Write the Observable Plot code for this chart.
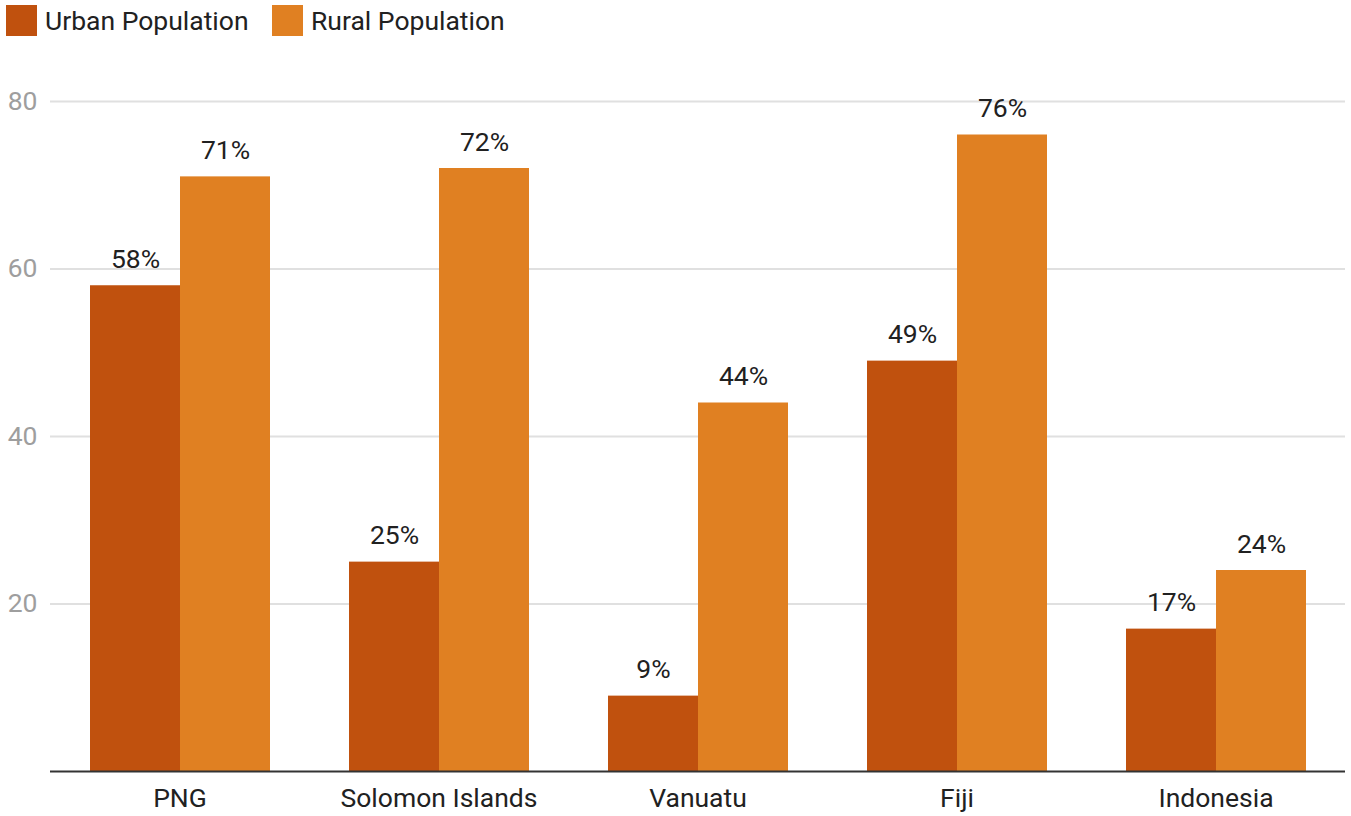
<!DOCTYPE html>
<html>
<head>
<meta charset="utf-8">
<script src="https://cdn.jsdelivr.net/npm/d3@7"></script>
<script src="https://cdn.jsdelivr.net/npm/@observablehq/plot@0.6"></script>
<style>
  html, body { margin: 0; padding: 0; background: #fff; }
  body { width: 1351px; height: 816px; overflow: hidden; font-family: Roboto, sans-serif; }
  #legend { height: 45px; position: relative; }
  .item { position: absolute; top: 5px; display: flex; align-items: center; font-size: 26.5px; color: #212121; line-height: 31px; }
  .sw { width: 31px; height: 31px; margin-right: 8px; }
</style>
</head>
<body>
<div id="legend"></div>
<div id="chart"></div>
<script>
const countries = ["PNG", "Solomon Islands", "Vanuatu", "Fiji", "Indonesia"];
const seriesNames = ["Urban Population", "Rural Population"];
const urbanValues = [58, 25, 9, 49, 17];
const ruralValues = [71, 72, 44, 76, 24];
const seriesColors = ["#c0510e", "#e08022"];
const yTicks = [20, 40, 60, 80];

const data = [];
countries.forEach((c, i) => {
  data.push({country: c, series: seriesNames[0], value: urbanValues[i]});
  data.push({country: c, series: seriesNames[1], value: ruralValues[i]});
});

// legend
const legend = document.getElementById("legend");
const legendX = [6, 272];
seriesNames.forEach((s, i) => {
  const it = document.createElement("div");
  it.className = "item";
  it.style.left = legendX[i] + "px";
  it.innerHTML = `<div class="sw" style="background:${seriesColors[i]}"></div><span>${s}</span>`;
  legend.appendChild(it);
});

const chart = Plot.plot({
  width: 1351,
  height: 771,
  marginTop: 56,
  marginBottom: 45,
  marginLeft: 49,
  marginRight: 5,
  style: {fontFamily: "Roboto, sans-serif", fontSize: "26.5px", background: "#fff"},
  fx: {domain: countries, paddingInner: 0.3, paddingOuter: 0.15, label: null},
  x: {domain: seriesNames, padding: 0, axis: null},
  y: {domain: [0, 80], label: null},
  color: {domain: seriesNames, range: seriesColors},
  marks: [
    Plot.ruleY(yTicks, {stroke: "#e0e0e0", strokeWidth: 2, insetLeft: -39, insetRight: -39}),
    Plot.barY(data, {fx: "country", x: "series", y: "value", fill: "series"}),
    Plot.ruleY([0], {stroke: "#333", strokeWidth: 2, insetLeft: -39, insetRight: -39}),
    Plot.text(data, {fx: "country", x: "series", y: "value", text: d => d.value + "%", lineAnchor: "bottom", dy: -18, fill: "#212121", fontSize: 26.5}),
    Plot.axisY({ticks: yTicks, tickSize: 0, tickPadding: 52, color: "#9e9e9e", label: null, fontSize: 26.5}),
    Plot.axisFx({anchor: "bottom", tickSize: 0, tickPadding: 17, label: null, color: "#212121", fontSize: 26.5})
  ]
});
document.getElementById("chart").appendChild(chart);
</script>
</body>
</html>
